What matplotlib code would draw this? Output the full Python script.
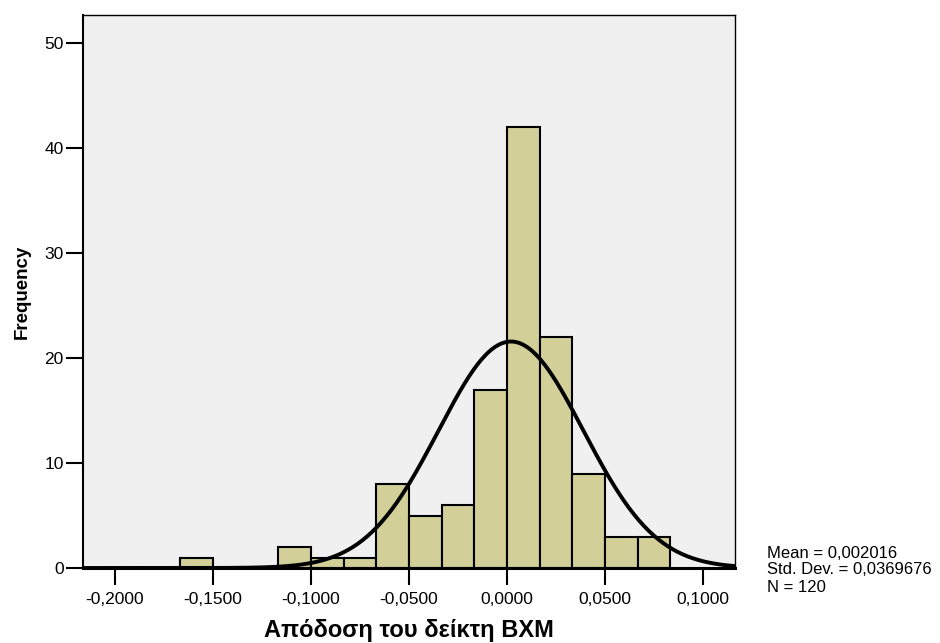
import numpy as np
import matplotlib.pyplot as plt
from matplotlib.ticker import FixedLocator, FuncFormatter

plt.rcParams['font.family'] = ['Liberation Sans', 'DejaVu Sans']

# histogram bins of width 1/60, counts per bin
bin_width = 1 / 60
bin_starts = np.array([-10, -7, -6, -5, -4, -3, -2, -1, 0, 1, 2, 3, 4]) * bin_width
counts = [1, 2, 1, 1, 8, 5, 6, 17, 42, 22, 9, 3, 3]

mean = 0.002016
std = 0.0369676
n = 120

x_ticks = [-0.2, -0.15, -0.1, -0.05, 0.0, 0.05, 0.1]
y_ticks = [0, 10, 20, 30, 40, 50]

fig = plt.figure(figsize=(9.4, 6.43), dpi=100)
ax = fig.add_axes([83 / 940, 75 / 643, 652 / 940, 553 / 643])
ax.set_facecolor('#f0f0f0')

ax.bar(bin_starts, counts, width=bin_width, align='edge',
       color='#d3cf98', edgecolor='black', linewidth=1.5, zorder=2)

# normal curve scaled to counts
xs = np.linspace(-0.2163, 0.1163, 400)
ys = n * bin_width * np.exp(-0.5 * ((xs - mean) / std) ** 2) / (std * np.sqrt(2 * np.pi))
ax.plot(xs, ys, color='black', linewidth=2.8, zorder=3)

ax.set_xlim(-0.2163, 0.1163)
ax.set_ylim(0, 52.7)
ax.xaxis.set_major_locator(FixedLocator(x_ticks))
ax.yaxis.set_major_locator(FixedLocator(y_ticks))
ax.xaxis.set_major_formatter(FuncFormatter(lambda v, p: f'{v:.4f}'.replace('.', ',')))

ax.tick_params(axis='both', direction='out', length=12, width=1.5,
               labelsize=12.5, colors='black')
ax.tick_params(axis='x', pad=5)
ax.tick_params(axis='y', pad=2)

for side in ['top', 'right']:
    ax.spines[side].set_linewidth(1.0)
ax.spines['left'].set_linewidth(1.5)
ax.spines['bottom'].set_linewidth(2.2)

ax.set_xlabel('Απόδοση του δείκτη BXM', fontsize=17, fontweight='bold')
ax.xaxis.set_label_coords(0.5, -0.093)
ax.set_ylabel('Frequency', fontsize=13.5, fontweight='bold', labelpad=10)

fig.text(767 / 940, 1 - 553 / 643, 'Mean = 0,002016', fontsize=12, va='center')
fig.text(767 / 940, 1 - 570 / 643, 'Std. Dev. = 0,0369676', fontsize=12, va='center')
fig.text(767 / 940, 1 - 587 / 643, 'N = 120', fontsize=12, va='center')

fig.savefig('out.png', dpi=100)
